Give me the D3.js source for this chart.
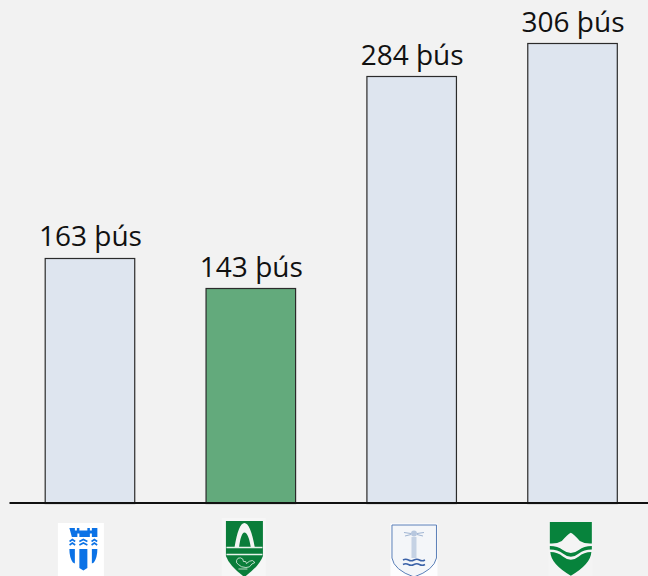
<!DOCTYPE html>
<html><head><meta charset="utf-8">
<style>html,body{margin:0;padding:0;background:#f2f2f2}svg{display:block}</style>
<script src="https://cdn.jsdelivr.net/npm/d3@7"></script></head>
<body><svg id="c" width="648" height="576"></svg>
<script>
const categories = ["a","b","c","d"];
const values = [163,143,284,306];
const unit = " þús";
const fills = ["#dee5ef","#63aa7c","#dee5ef","#dee5ef"];
const svg = d3.select("#c");
svg.append("rect").attr("width",648).attr("height",576).attr("fill","#f2f2f2");
const x = d3.scaleBand().domain(categories).range([45.2,617.3]).paddingInner(0.4434).paddingOuter(0);
const y = d3.scaleLinear().domain([0,306]).range([503,43]);
svg.selectAll("rect.bar").data(values).join("rect").attr("class","bar")
  .attr("x",(d,i)=>x(categories[i])).attr("y",d=>Math.round(y(d))+.5)
  .attr("width",x.bandwidth()).attr("height",d=>y(0)-Math.round(y(d)))
  .attr("fill",(d,i)=>fills[i]).attr("stroke","#2b2b2b").attr("stroke-width",1.2);
svg.selectAll("text.lab").data(values).join("text").attr("class","lab")
  .attr("x",(d,i)=>x(categories[i])+x.bandwidth()/2+.5).attr("y",d=>y(d)-11.5)
  .attr("text-anchor","middle").attr("fill","#111")
  .style("font-family","'Open Sans',sans-serif").style("font-size","28px")
  .text(d=>d+unit);
svg.append("line").attr("x1",9.5).attr("x2",648).attr("y1",503).attr("y2",503).attr("stroke","#111").attr("stroke-width",2);
const cx = i=>x(categories[i])+x.bandwidth()/2;
// crest 1
let g = svg.append("g").attr("transform",`translate(${cx(0)-6.6},0)`);
g.append("rect").attr("x",-25.500).attr("y",523).attr("width",46).attr("height",53).attr("fill","#fff");
const blue="#0b72e6";
g.append("path").attr("fill",blue).attr("d","M-14,528h5.500v2.500h2v-2.500h2.500v2.500h8v-2.500h2.500v2.500h2v-2.500h5.500v9h-5.500v-3.500h-2v3.500h-10.500v-3.500h-2v3.500h-5.500z");
g.selectAll("path.w").data([-11,0,11]).join("path").attr("fill","none").attr("stroke",blue).attr("stroke-width",1.600)
  .attr("d",d=>{const h=d===0?4:2.800;return `M${d-h},541.500l${h},-2l${h},2 M${d-h},545l${h},-2l${h},2`;});
g.append("path").attr("fill",blue).attr("d","M-14,549h5.500v14.500l-2,-1q-3.500,-5 -3.500,-13.500z M-4,549h8v19l-4,2.500l-4,-2.500z M8.500,549h5.500q0,8.500 -3.500,13.500l-2,1z");
// crest 2
g = svg.append("g").attr("transform",`translate(${cx(1)-6.4},0)`);
g.append("rect").attr("x",-22.500).attr("y",518).attr("width",44).attr("height",58).attr("fill","#f6f6f6");
g.append("path").attr("fill","#0a7d3a").attr("d","M-18.500,521H18.500V556Q15,566 0,577Q-15,566 -18.500,556Z");
g.append("path").attr("fill","#f4f4f4").attr("d","M-10,548Q-6,523 0,523Q6,523 10.500,548H6.500Q4,532.500 0,532.500Q-3.500,532.500 -5.500,548Z");
g.append("path").attr("stroke","#e8f2ea").attr("stroke-width",1.300).attr("fill","none").attr("d","M-18,547.500H18M-18,554.500H18");
g.append("path").attr("stroke","#e8f2ea").attr("stroke-width",.8).attr("fill","none").attr("d","M-6,564.500a3.500,3.500 0 1 1 5,-3q3,-1 3,2q3,-3 6,-3l2.500,2l-3,1.500q-2,4 -6,3.500q-5,0 -7.500,-3M-6,569H3");
// crest 3
g = svg.append("g").attr("transform",`translate(${cx(2)+2.300},0)`);
g.append("rect").attr("x",-23.500).attr("y",523.300).attr("width",47).attr("height",53).attr("fill","#fdfdfe");
g.append("path").attr("fill","#f4f6f9").attr("stroke","#5a7fb8").attr("stroke-width",1).attr("d","M-22,525H22.500V558Q20,570 0,577Q-20,570 -22,558Z");
g.append("path").attr("fill","#c5d2e4").attr("d","M-2.500,537H2.500V558H-2.500Z");
g.append("path").attr("stroke","#9fb4d2").attr("stroke-width",1).attr("fill","none").attr("d","M-10,532.500L-3,533.500M10,532.500L3,533.500M-9,536L-3,534.500M9,536L3,534.500");
g.append("circle").attr("cy",533.500).attr("r",3).attr("fill","#b7c7de");
g.append("path").attr("stroke","#3b62a8").attr("stroke-width",1.500).attr("fill","none").attr("d","M-11,560q2.800,-1.500 5.500,0t5.500,0t5.500,0t5.500,0M-11,564.500q2.800,-1.500 5.500,0t5.500,0t5.500,0t5.500,0");
// crest 4
g = svg.append("g").attr("transform",`translate(${cx(3)-1.700},0)`);
g.append("rect").attr("x",-22.500).attr("y",522).attr("width",44.500).attr("height",54).attr("fill","#f4f4f4");
const green="#07833c";
g.append("path").attr("fill",green).attr("d","M-21,522H21V543.500Q14,544 9,541Q3,534 0,532.700Q-3,534 -9,541Q-14,544 -21,543.500Z");
g.append("path").attr("fill",green).attr("d","M-21,546Q-13,546 -8,550Q0,556 8,550Q13,546 21,546V549.500Q13,549.500 8,553.500Q0,560 -8,553.500Q-13,549.500 -21,549.500Z");
g.append("path").attr("fill",green).attr("d","M-20.500,552Q-13,552 -8,556.500Q0,563 8,556.500Q13,552 20.500,552Q20,564 0,575.700Q-20,564 -20.500,552Z");
</script></body></html>
